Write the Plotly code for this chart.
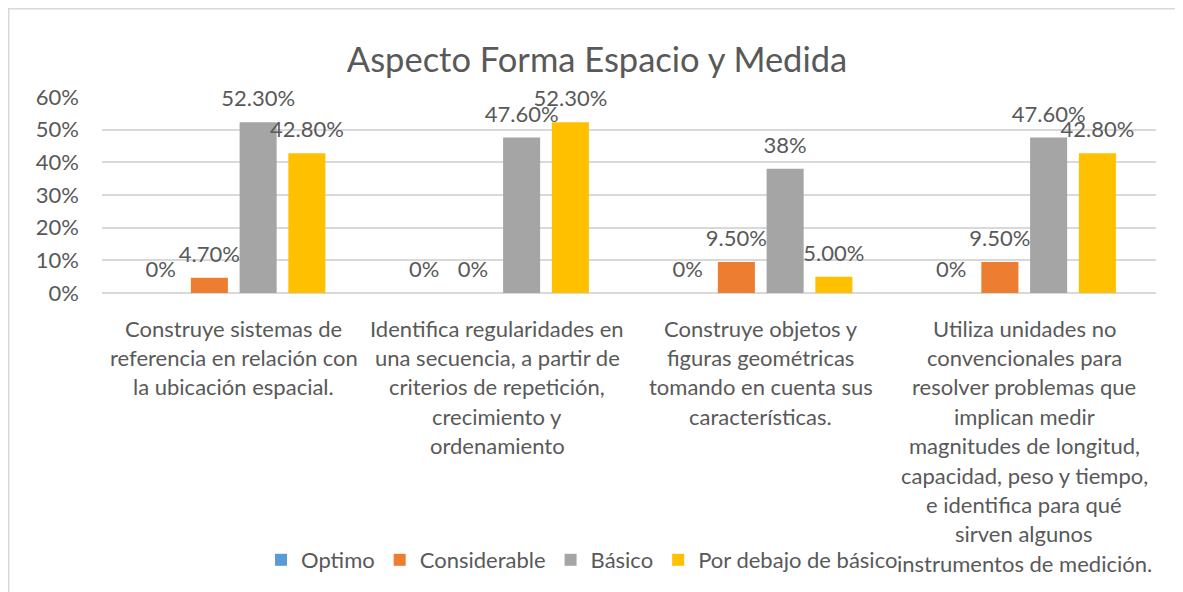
import plotly.graph_objects as go

categories = [
    "Construye sistemas de<br>referencia en relación con<br>la ubicación espacial.",
    "Identifica regularidades en<br>una secuencia, a partir de<br>criterios de repetición,<br>crecimiento y<br>ordenamiento",
    "Construye objetos y<br>figuras geométricas<br>tomando en cuenta sus<br>características.",
    "Utiliza unidades no<br>convencionales para<br>resolver problemas que<br>implican medir<br>magnitudes de longitud,<br>capacidad, peso y tiempo,<br>e identifica para qué<br>sirven algunos<br>instrumentos de medición.",
]
series_names = ["Optimo", "Considerable", "Básico", "Por debajo de básico"]
optimo = [0.0, 0.0, 0.0, 0.0]
considerable = [0.047, 0.0, 0.095, 0.095]
basico = [0.523, 0.476, 0.38, 0.476]
por_debajo = [0.428, 0.523, 0.05, 0.428]
optimo_labels = ["0%", "0%", "0%", "0%"]
considerable_labels = ["4.70%", "0%", "9.50%", "9.50%"]
basico_labels = ["52.30%", "47.60%", "38%", "47.60%"]
por_debajo_labels = ["42.80%", "52.30%", "5.00%", "42.80%"]
y_ticks = [0, 0.1, 0.2, 0.3, 0.4, 0.5, 0.6]
title_text = "Aspecto Forma Espacio y Medida"

colors = ["#5B9BD5", "#ED7D31", "#A5A5A5", "#FFC000"]
FONT = "Lato"
TXT = "#595959"
LABEL_PAD = 0.024  # gap between bar end and its data label (axis units)

fig = go.Figure()
for name, vals, col in zip(series_names,
                           [optimo, considerable, basico, por_debajo], colors):
    fig.add_trace(go.Bar(
        name=name, x=categories, y=vals, offsetgroup=name,
        marker=dict(color=col, line=dict(width=0)), hoverinfo="skip",
    ))
# transparent spacer bars sitting on top of each bar, carrying the data labels
for name, vals, labs in zip(
    series_names,
    [optimo, considerable, basico, por_debajo],
    [optimo_labels, considerable_labels, basico_labels, por_debajo_labels],
):
    fig.add_trace(go.Bar(
        name=name, x=categories, y=[LABEL_PAD] * len(vals), base=vals,
        offsetgroup=name, text=labs, showlegend=False,
        textposition="outside", constraintext="none", cliponaxis=False,
        textfont=dict(family=FONT, size=22, color=TXT),
        marker=dict(color="rgba(0,0,0,0)", line=dict(width=0)),
        hoverinfo="skip",
    ))

annotations = []
for cat in categories:
    for i, line in enumerate(cat.split("<br>")):
        annotations.append(dict(
            x=cat, xref="x", y=0, yref="paper", yanchor="middle",
            yshift=-(35 + i * 29.4), text=line, showarrow=False,
            font=dict(family=FONT, size=22, color=TXT),
        ))

# page body adds an 8px offset; layout numbers below are in figure pixels
fig.update_layout(
    width=1183, height=592,
    margin=dict(l=94, r=35, t=89, b=307),
    paper_bgcolor="white", plot_bgcolor="white",
    barmode="group", bargap=0.26, bargroupgap=0.24,
    title=dict(text=title_text, x=589 / 1183, xref="container", xanchor="center",
               y=1 - 52 / 592, yref="container", yanchor="middle",
               font=dict(family=FONT, size=34.5, color=TXT)),
    xaxis=dict(showticklabels=False, showgrid=False, zeroline=False,
               showline=False, fixedrange=True),
    yaxis=dict(range=[0, 0.6], tickvals=y_ticks, tickformat=".0%",
               showgrid=True, gridcolor="#D9D9D9", gridwidth=1.5,
               zeroline=True, zerolinecolor="#D9D9D9", zerolinewidth=1.5,
               showline=False, ticklabelstandoff=22,
               tickfont=dict(family=FONT, size=22, color=TXT)),
    legend=dict(orientation="h", x=(253 - 94) / 1054, xanchor="left",
                y=(285 - 552) / 196, yanchor="middle",
                font=dict(family=FONT, size=22, color=TXT),
                bgcolor="rgba(0,0,0,0)"),
    annotations=annotations,
    shapes=[dict(type="rect", xref="paper", yref="paper",
                 x0=(0.75 - 94) / 1054, x1=(1250 - 94) / 1054,
                 y0=(285 - 0.75) / 196, y1=(285 - 650) / 196,
                 line=dict(color="#D9D9D9", width=1.5), layer="below")],
)

fig.write_html("out.html")
